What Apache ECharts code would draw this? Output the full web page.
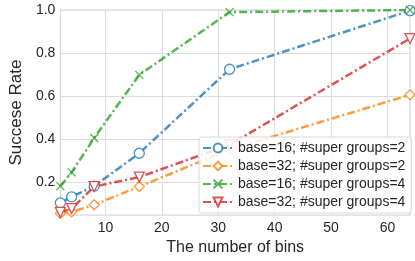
<!DOCTYPE html>
<html><head><meta charset="utf-8">
<script src="https://cdn.jsdelivr.net/npm/echarts@6/dist/echarts.min.js"></script>
<style>html,body{margin:0;padding:0;background:#fff}#c{width:415px;height:261px}</style>
</head><body><div id="c"></div>
<script>
const bins = [2, 4, 8, 16, 32, 64];
const seriesNames = ['base=16; #super groups=2','base=32; #super groups=2','base=16; #super groups=4','base=32; #super groups=4'];
const b16sg2 = [0.102, 0.13, 0.18, 0.333, 0.724, 0.997];
const b32sg2 = [0.053, 0.060, 0.093, 0.178, 0.35, 0.605];
const b16sg4 = [0.18, 0.244, 0.404, 0.698, 0.99, 1.0];
const b32sg4 = [0.058, 0.075, 0.178, 0.222, 0.372, 0.867];
const xTicks = [10, 20, 30, 40, 50, 60];
const yTicks = [0.2, 0.4, 0.6, 0.8, 1.0];

const colors = ['rgba(31,119,180,0.8)','rgba(255,127,14,0.8)','rgba(44,160,44,0.8)','rgba(214,39,40,0.8)'];
const symbols = ['circle','diamond','path://M0,0L10,10M10,0L0,10','triangle'];
const rot = [0,0,0,180];
const vals = [b16sg2, b32sg2, b16sg4, b32sg4];
const font = 'Liberation Sans';

const chart = echarts.init(document.getElementById('c'), null, {renderer:'canvas'});
chart.setOption({
  animation:false,
  backgroundColor:'#fff',
  grid:{left:43,right:5,top:10,bottom:37,show:true,borderColor:'#d0d0d0',borderWidth:1},
  xAxis:{type:'value',min:2,max:64,
    name:'The number of bins',nameLocation:'middle',nameGap:17,
    nameTextStyle:{fontFamily:font,fontSize:16,color:'#262626'},
    axisLine:{show:false},
    axisTick:{show:false,customValues:xTicks},
    axisLabel:{customValues:xTicks,fontFamily:font,fontSize:14,color:'#262626',margin:6},
    splitLine:{show:true,lineStyle:{color:'#dedede',width:1}}
  },
  yAxis:{type:'value',min:0.045,max:1.0,
    name:'Succese Rate',nameLocation:'middle',nameGap:30,
    nameTextStyle:{fontFamily:font,fontSize:17,color:'#262626'},
    axisLine:{show:false},
    axisTick:{show:false,customValues:yTicks},
    axisLabel:{customValues:yTicks,fontFamily:font,fontSize:14,color:'#262626',margin:5,
      formatter:v=>v.toFixed(1)},
    splitLine:{show:true,lineStyle:{color:'#dedede',width:1}}
  },
  legend:{left:199,top:137,orient:'vertical',backgroundColor:'rgba(255,255,255,0.85)',
    borderColor:'#d8d8d8',borderWidth:1,borderRadius:3,padding:[4,6,4,3],itemGap:4,
    itemWidth:30,itemHeight:11,
    textStyle:{fontFamily:font,fontSize:14,color:'#262626'},
    data:seriesNames},
  series: vals.map((v,i)=>({
    name:seriesNames[i],type:'line',
    data:bins.map((b,j)=>[b,v[j]]),
    symbol:symbols[i],symbolSize:i===2?8:10,symbolRotate:rot[i],
    itemStyle:{color:'#fff',borderColor:colors[i],borderWidth:1.3},
    lineStyle:{color:colors[i],width:2.5,type:[8,3,2,3]},
    color:colors[i]
  }))
});
</script></body></html>
